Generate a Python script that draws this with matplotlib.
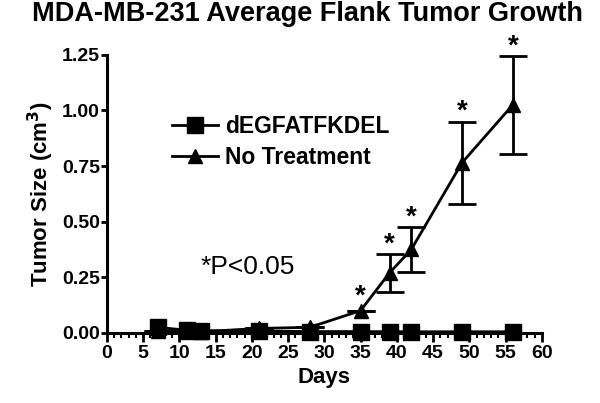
import matplotlib
matplotlib.use("Agg")
import matplotlib.pyplot as plt
from matplotlib.lines import Line2D
from matplotlib.ticker import MultipleLocator, FormatStrFormatter

plt.rcParams['font.family'] = ['Liberation Sans', 'DejaVu Sans']

days = [7, 11, 13, 21, 28, 35, 39, 42, 49, 56]
degf = [0.025, 0.012, 0.01, 0.008, 0.006, 0.006, 0.005, 0.005, 0.005, 0.005]
notreat = [0.01, 0.005, 0.005, 0.02, 0.025, 0.10, 0.27, 0.375, 0.765, 1.025]
notreat_err = [0, 0, 0, 0, 0, 0, 0.085, 0.10, 0.185, 0.22]
star_days = [35, 39, 42, 49, 56]

fig = plt.figure(figsize=(6, 4.03), dpi=100)
ax = fig.add_axes([0.178, 0.174, 0.725, 0.69])

ax.errorbar(days, degf, color="black", marker="s", markersize=11, lw=2,
            clip_on=False, zorder=3)
ax.errorbar(days, notreat, yerr=notreat_err, color="black", marker="^", markersize=10,
            lw=2, elinewidth=2, capsize=10, capthick=2, clip_on=False, zorder=4)

# significance stars above the error bars
for d in star_days:
    i = days.index(d)
    top = notreat[i] + notreat_err[i]
    off = 5 if notreat_err[i] == 0 else 2
    ax.annotate("*", (d, top), xytext=(0, off),
                textcoords="offset points", ha="center", va="baseline",
                fontsize=20, fontweight="bold", annotation_clip=False)

ax.text(0.215, 0.237, "*P<0.05", transform=ax.transAxes, fontsize=19, va="center")

ax.set_xlim(0, 60)
ax.set_ylim(0, 1.25)
ax.xaxis.set_major_locator(MultipleLocator(5))
ax.xaxis.set_minor_locator(MultipleLocator(1))
ax.yaxis.set_major_locator(MultipleLocator(0.25))
ax.yaxis.set_major_formatter(FormatStrFormatter("%.2f"))

for s in ["top", "right"]:
    ax.spines[s].set_visible(False)
for s in ["left", "bottom"]:
    ax.spines[s].set_linewidth(2.2)
ax.tick_params(axis="x", which="major", width=2, length=6.5, labelsize=14, pad=2)
ax.tick_params(axis="y", which="major", width=2, length=4, labelsize=14, pad=1)
ax.tick_params(axis="x", which="minor", width=1.5, length=3.5)
for lab in ax.get_xticklabels() + ax.get_yticklabels():
    lab.set_fontweight("bold")

ax.set_xlabel("Days", fontsize=16, fontweight="bold", labelpad=4)
ax.set_ylabel("Tumor Size (cm$^\\mathbf{3}$)", fontsize=16, fontweight="bold", labelpad=4)
fig.suptitle("MDA-MB-231 Average Flank Tumor Growth", fontsize=19.5, fontweight="bold",
             x=0.513, y=0.998, va="top")

handles = [Line2D([], [], color="black", lw=2, marker="s", markersize=11),
           Line2D([], [], color="black", lw=2, marker="^", markersize=10)]
ax.legend(handles, ["dEGFATFKDEL", "No Treatment"], loc="center left",
          bbox_to_anchor=(0.15, 0.685), frameon=False,
          prop={"weight": "bold", "size": 16.5}, handlelength=2.0, handletextpad=0.3,
          labelspacing=0.35, borderaxespad=0, borderpad=0)

fig.savefig("out.png", dpi=100)
